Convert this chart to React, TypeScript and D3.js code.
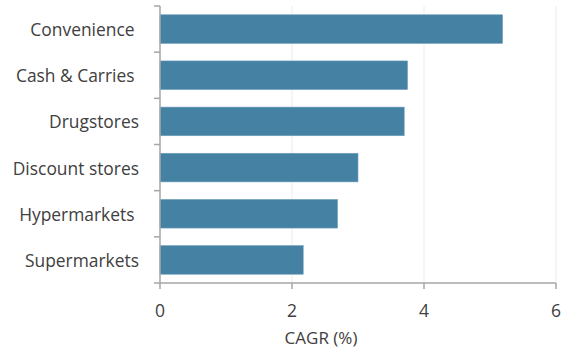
import React from "react";
import * as d3 from "d3";

const categories = ["Convenience ", "Cash & Carries ", "Drugstores", "Discount stores", "Hypermarkets ", "Supermarkets"];
const cagr = [5.19, 3.75, 3.7, 3.0, 2.69, 2.17];
const xTicks = [0, 2, 4, 6];
const xTitle = "CAGR (%)";

const W = 574;
const H = 349;
const M = { left: 160, right: 18, top: 6, bottom: 66 };
const FONT = "'Open Sans', sans-serif";
const TEXT = "#404040";
const AXIS = "#a6a6a6";
const BAR = "#4581a3";

export default function App() {
  const x = d3.scaleLinear().domain([0, 6]).range([M.left, W - M.right]);
  const y = d3
    .scaleBand<string>()
    .domain(categories)
    .range([M.top, H - M.bottom])
    .paddingInner(0.38)
    .paddingOuter(0.19);
  const y0 = M.top;
  const y1 = H - M.bottom;
  const boundaries = d3.range(categories.length + 1).map((i) => y0 + i * ((y1 - y0) / categories.length));

  return (
    <svg width={W} height={H} style={{ position: "absolute", left: 0, top: 0, background: "#fff" }}>
      {/* vertical gridlines */}
      {xTicks.slice(1).map((t) => (
        <line key={"g" + t} x1={x(t)} x2={x(t)} y1={y0} y2={y1} stroke="#ececec" strokeWidth={1} />
      ))}
      {/* bars */}
      {categories.map((c, i) => (
        <rect
          key={c}
          x={x(0)}
          y={y(c)}
          width={x(cagr[i]) - x(0)}
          height={y.bandwidth()}
          fill={BAR}
          stroke="#6f9fbd"
          strokeWidth={0.6}
        />
      ))}
      {/* y axis */}
      <line x1={x(0)} x2={x(0)} y1={y0} y2={y1} stroke={AXIS} strokeWidth={1.5} />
      {boundaries.map((b, i) => (
        <line key={"yt" + i} x1={x(0) - 6} x2={x(0)} y1={b} y2={b} stroke={AXIS} strokeWidth={1.5} />
      ))}
      {categories.map((c) => (
        <text
          key={"l" + c}
          x={139}
          y={(y(c) ?? 0) + y.bandwidth() / 2}
          textAnchor="end"
          dominantBaseline="central"
          fontFamily={FONT}
          fontSize={17.4}
          fill={TEXT}
          style={{ whiteSpace: "pre" }}
        >
          {c}
        </text>
      ))}
      {/* x axis */}
      <line x1={x(0)} x2={x(6)} y1={y1} y2={y1} stroke={AXIS} strokeWidth={1.5} />
      {xTicks.map((t) => (
        <g key={"xt" + t}>
          <line x1={x(t)} x2={x(t)} y1={y1} y2={y1 + 6} stroke={AXIS} strokeWidth={1.5} />
          <text x={x(t)} y={y1 + 34} textAnchor="middle" fontFamily={FONT} fontSize={17.5} fill={TEXT}>
            {t}
          </text>
        </g>
      ))}
      <text x={321} y={y1 + 61} textAnchor="middle" fontFamily={FONT} fontSize={17} fill={TEXT}>
        {xTitle}
      </text>
    </svg>
  );
}
